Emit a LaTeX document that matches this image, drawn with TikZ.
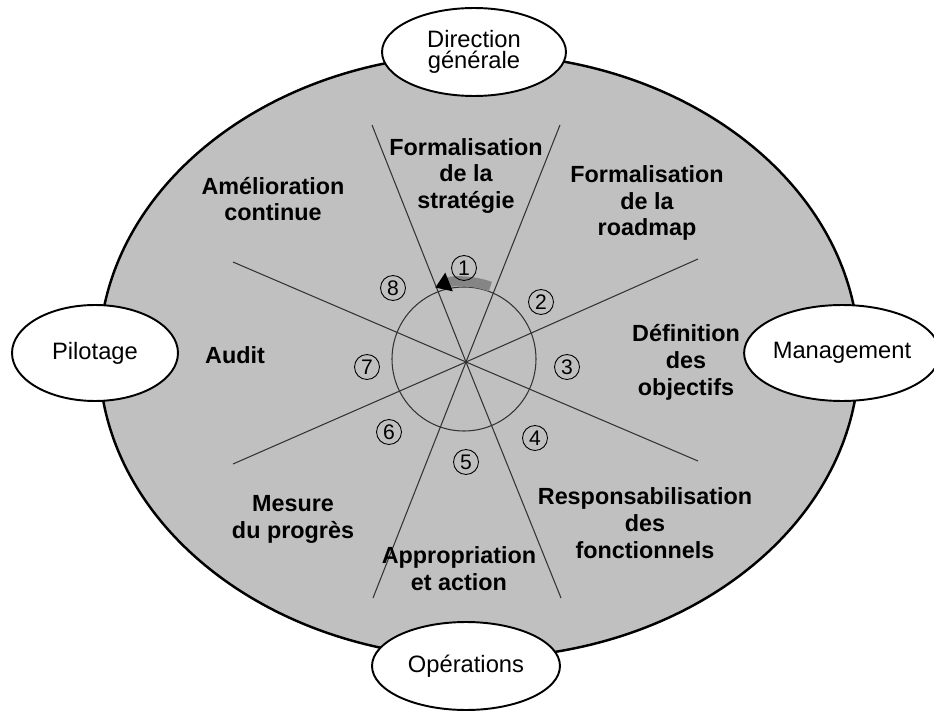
\documentclass[tikz,border=0pt]{standalone}
\usepackage{fontspec}
\setmainfont{Liberation Sans}
\usetikzlibrary{shapes.geometric,arrows.meta,positioning}
\definecolor{discGray}{HTML}{C0C0C0}
\definecolor{bandGray}{HTML}{858585}

\begin{document}
\begin{tikzpicture}[
    x=0.02cm, y=-0.02cm,
    actor/.style={draw, ellipse, line width=1.1pt, fill=white, inner sep=0pt, align=center, font=\fontsize{13.5}{12}\selectfont},
    stage/.style={align=center, font=\fontsize{13.3}{15.3}\selectfont\bfseries},
    stepno/.style={draw, circle, line width=0.5pt, minimum size=0.5cm, inner sep=0pt, font=\fontsize{12}{12}\selectfont},
    spoke/.style={line width=0.6pt, black!80},
    progress/.style={line width=0.2cm, draw=bandGray, -{Triangle[length=0.3cm, width=0.38cm, color=black]}}
]
    \fill[white] (0,0) rectangle (934,713);
    \useasboundingbox (0,0) rectangle (934,713);

    % the wheel
    \node[draw, ellipse, line width=1.4pt, fill=discGray, minimum width=15.2cm, minimum height=12.08cm, inner sep=0pt] (disc) at (479,356) {};

    \coordinate (hub) at (466,362);
    \coordinate (s1a) at (372,125);
    \coordinate (s1b) at (561,598);
    \coordinate (s2a) at (560,125);
    \coordinate (s2b) at (373,598);
    \coordinate (s3a) at (233,262);
    \coordinate (s3b) at (698,461);
    \coordinate (s4a) at (233,464);
    \coordinate (s4b) at (698,259);
    \draw[spoke] (s1a) -- (hub) -- (s1b);
    \draw[spoke] (s2a) -- (hub) -- (s2b);
    \draw[spoke] (s3a) -- (hub) -- (s3b);
    \draw[spoke] (s4a) -- (hub) -- (s4b);

    \coordinate (ring) at (464,359);
    \draw[spoke] (ring) circle[radius=72];
    \draw[progress] (ring) ++(-70:77) arc[start angle=-70, end angle=-112, radius=77];

    % stages
    \node[stage] (strat) at (466,176) {Formalisation\\de la\\stratégie};
    \node[stage] (road) at (647,203) {Formalisation\\de la\\roadmap};
    \node[stage] (obj) at (686,362) {Définition\\des\\objectifs};
    \node[stage] (resp) at (645,523) {Responsabilisation\\des\\fonctionnels};
    \node[stage] (appr) at (459,569) {Appropriation\\et action};
    \node[stage] (mes) at (293,519) {Mesure\\du progrès};
    \node[stage] (audit) at (235,355) {Audit};
    \node[stage] (amel) at (273,199) {Amélioration\\continue};

    \node[stepno] (n1) at (464,268) {1};
    \node[stepno] (n2) at (541,302) {2};
    \node[stepno] (n3) at (567,367) {3};
    \node[stepno] (n4) at (535,438) {4};
    \node[stepno] (n5) at (466,462) {5};
    \node[stepno] (n6) at (389,432) {6};
    \node[stepno] (n7) at (367,367) {7};
    \node[stepno] (n8) at (393,288) {8};

    % actors round the wheel
    \node[actor, minimum width=3.68cm, minimum height=1.76cm] (dg) at (474,52) {Direction\\générale};
    \node[actor, minimum width=3.32cm, minimum height=1.92cm] (pil) at (95,353) {Pilotage};
    \node[actor, minimum width=3.6cm, minimum height=1.92cm] (mgt) at (842,353) {Management};
    \node[actor, minimum width=3.76cm, minimum height=1.76cm] (ops) at (466,666) {Opérations};
\end{tikzpicture}
\end{document}
